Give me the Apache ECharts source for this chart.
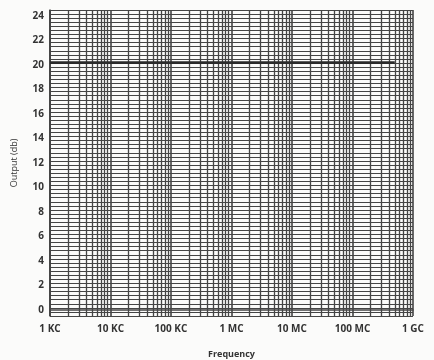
<!DOCTYPE html>
<html>
<head>
<meta charset="utf-8">
<script src="https://cdn.jsdelivr.net/npm/echarts@6/dist/echarts.min.js"></script>
<style>
html,body{margin:0;padding:0;background:#fbfbfa;}
#chart{width:434px;height:360px;}
</style>
</head>
<body>
<div id="chart"></div>
<script>
// Data
var freqTickValues = [1e3, 1e4, 1e5, 1e6, 1e7, 1e8, 1e9];
var freqTickLabels = ['1 KC', '10 KC', '100 KC', '1 MC', '10 MC', '100 MC', '1 GC'];
var outputTicks = [0, 2, 4, 6, 8, 10, 12, 14, 16, 18, 20, 22, 24];
var responseFreq = [1e3, 5e8];
var responseOutput = [20.2, 20.2];
// graph-paper subdivisions
var decadeMultipliers = [2, 3, 4, 5, 6, 7, 8, 9];
var paperRowsPerUnit = 3;

var yMin = -0.5, yMax = 24.5;

var minorX = [];
for (var d = 0; d < freqTickValues.length - 1; d++) {
  for (var m = 0; m < decadeMultipliers.length; m++) {
    minorX.push({ xAxis: freqTickValues[d] * decadeMultipliers[m] });
  }
}

var gridColor = '#454545';
var labelFont = { fontFamily: 'Open Sans', fontWeight: 'bold', fontSize: 10, color: '#333' };

var chart = echarts.init(document.getElementById('chart'));
chart.setOption({
  backgroundColor: '#fbfbfa',
  animation: false,
  grid: { left: 50, right: 21, top: 10, bottom: 44, outerBoundsMode: 'none', containLabel: false },
  xAxis: {
    type: 'log',
    logBase: 10,
    min: freqTickValues[0],
    max: freqTickValues[freqTickValues.length - 1],
    name: 'Frequency',
    nameLocation: 'middle',
    nameGap: 34,
    nameTextStyle: { fontFamily: 'Open Sans', fontWeight: 'bold', fontSize: 9, color: '#333' },
    axisLine: { show: true, lineStyle: { color: gridColor, width: 1.5 } },
    axisTick: { show: false },
    splitLine: { show: true, lineStyle: { color: gridColor, width: 1.6 } },
    axisLabel: Object.assign({
      margin: 8,
      formatter: function (v) {
        for (var i = 0; i < freqTickValues.length; i++) {
          if (Math.abs(Math.log10(v) - Math.log10(freqTickValues[i])) < 1e-6) return freqTickLabels[i];
        }
        return '';
      }
    }, labelFont)
  },
  yAxis: [
    {
      type: 'value',
      min: yMin,
      max: yMax,
      interval: 0.5,
      name: 'Output (db)',
      nameLocation: 'middle',
      nameGap: 31,
      nameTextStyle: { fontFamily: 'Open Sans', fontSize: 9, color: '#333' },
      axisLine: { show: true, lineStyle: { color: gridColor, width: 1.5 } },
      axisTick: { show: false },
      splitLine: { show: false },
      axisLabel: Object.assign({
        margin: 6,
        formatter: function (v) {
          var r = Math.round(v * 1000) / 1000;
          return outputTicks.indexOf(r) >= 0 ? String(r) : '';
        }
      }, labelFont)
    },
    {
      type: 'value',
      min: 0,
      max: (yMax - yMin) * paperRowsPerUnit,
      interval: 1,
      position: 'right',
      axisLine: { show: false },
      axisTick: { show: false },
      axisLabel: { show: false },
      splitLine: { show: true, lineStyle: { color: gridColor, width: 1.2 } }
    }
  ],
  series: [
    {
      type: 'line',
      xAxisIndex: 0,
      yAxisIndex: 0,
      data: [],
      silent: true,
      markLine: {
        silent: true,
        symbol: 'none',
        label: { show: false },
        lineStyle: { color: gridColor, width: 1.3, type: 'solid' },
        data: minorX
      }
    },
    {
      type: 'line',
      xAxisIndex: 0,
      yAxisIndex: 0,
      symbol: 'none',
      lineStyle: { color: '#2b2b2b', width: 2.8 },
      data: responseFreq.map(function (f, i) { return [f, responseOutput[i]]; }),
      z: 5
    }
  ]
});
</script>
</body>
</html>
